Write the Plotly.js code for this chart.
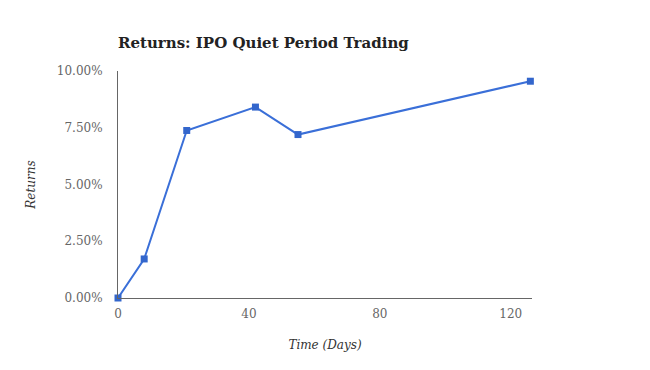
<!DOCTYPE html>
<html>
<head>
<meta charset="utf-8">
<script src="https://cdn.plot.ly/plotly-3.0.1.min.js"></script>
<style>html,body{margin:0;padding:0;background:#fff;}#chart{width:650px;height:370px;}</style>
</head>
<body>
<div id="chart"></div>
<script>
var days = [0, 8, 21, 42, 55, 126];
var returns = [0.0, 0.0172, 0.0738, 0.0841, 0.0720, 0.0955];
var xTicks = [0, 40, 80, 120];
var yTicks = [0, 0.025, 0.05, 0.075, 0.1];
var yTickLabels = ['0.00%', '2.50%', '5.00%', '7.50%', '10.00%'];

var trace = {
  x: days, y: returns, type: 'scatter', mode: 'lines+markers',
  cliponaxis: false,
  line: {color: '#3a6fd8', width: 2},
  marker: {symbol: 'square', size: 7, color: '#3366cc'},
  hoverinfo: 'skip'
};
var layout = {
  width: 650, height: 370,
  margin: {l: 118, r: 118, t: 71, b: 72},
  paper_bgcolor: '#fff', plot_bgcolor: '#fff',
  showlegend: false,
  title: {text: '<b>Returns: IPO Quiet Period Trading</b>', x: 118/650, xanchor: 'left', y: 1 - 43/370, yanchor: 'middle',
          font: {family: 'DejaVu Serif, serif', size: 15, color: '#222'}},
  xaxis: {range: [0, 126.5], tickvals: xTicks, showgrid: false, zeroline: false,
          showline: true, linecolor: '#666', linewidth: 1, ticks: '', ticklabelstandoff: 5,
          tickfont: {family: 'DejaVu Serif, serif', size: 12, color: '#666'},
          title: {text: '<i>Time (Days)</i>', standoff: 20, font: {family: 'DejaVu Serif, serif', size: 12, color: '#333'}}},
  yaxis: {range: [0, 0.1], tickvals: yTicks, ticktext: yTickLabels, showgrid: false, zeroline: false,
          showline: true, linecolor: '#666', linewidth: 1, ticks: '', ticklabelstandoff: 12,
          tickfont: {family: 'DejaVu Serif, serif', size: 12, color: '#666'},
          title: {text: '<i>Returns</i>', standoff: 18, font: {family: 'DejaVu Serif, serif', size: 12, color: '#333'}}}
};
Plotly.newPlot('chart', [trace], layout, {displayModeBar: false, staticPlot: true});
</script>
</body>
</html>
